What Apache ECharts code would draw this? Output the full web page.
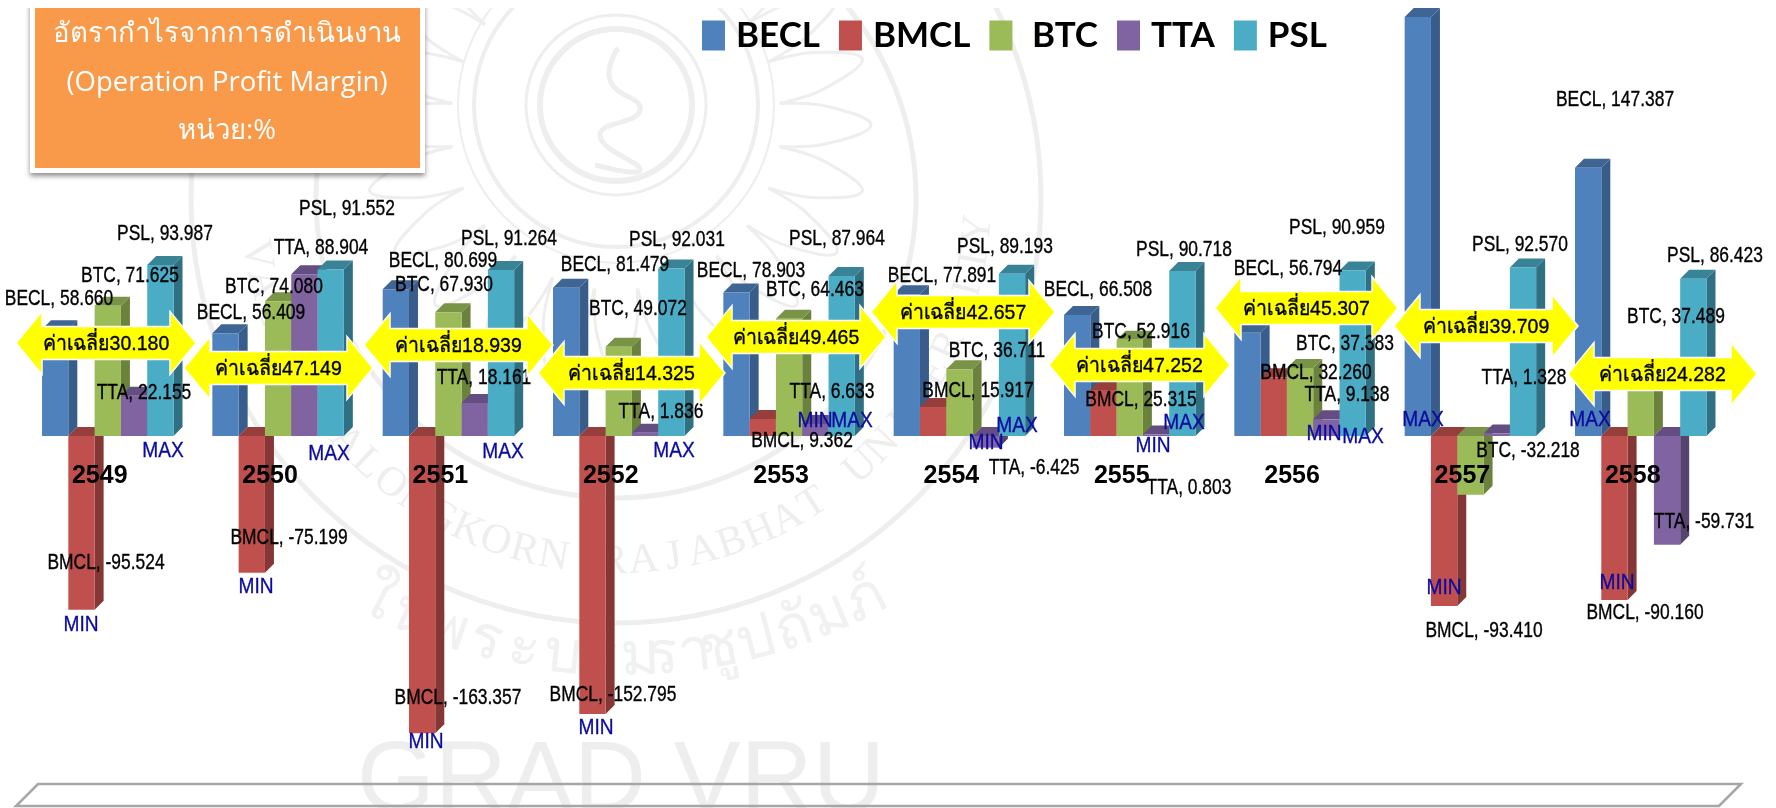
<!DOCTYPE html>
<html><head><meta charset="utf-8">
<style>html,body{margin:0;padding:0;background:#fff}#c{width:1776px;height:808px}</style>
<script src="https://cdn.jsdelivr.net/npm/echarts@6/dist/echarts.min.js"></script>
</head><body><div id="c"></div>
<script>
const categories = ['2549','2550','2551','2552','2553','2554','2555','2556','2557','2558'];
const BECL = [58.660,56.409,80.699,81.479,78.903,77.891,66.508,56.794,230.275,147.387];
const BMCL = [-95.524,-75.199,-163.357,-152.795,9.362,15.917,25.315,32.260,-93.410,-90.160];
const BTC  = [71.625,74.080,67.930,49.072,64.463,36.711,52.916,37.383,-32.218,37.489];
const TTA  = [22.155,88.904,18.161,1.836,6.633,-6.425,0.803,9.138,1.328,-59.731];
const PSL  = [93.987,91.552,91.264,92.031,87.964,89.193,90.718,90.959,92.570,86.423];
const means = ['30.180','47.149','18.939','14.325','49.465','42.657','47.252','45.307','39.709','24.282'];
const seriesNames = ['BECL','BMCL','BTC','TTA','PSL'];
const seriesValues = [BECL,BMCL,BTC,TTA,PSL];
const maxLabel = 'MAX', minLabel = 'MIN';

// --- layout and style, separate from the data ---
const SANS = '"Liberation Sans",sans-serif';
const faces = [
  ['#4F81BD','#385D8A','#3E6594'],['#C0504D','#853735','#953E3B'],
  ['#9BBB59','#6B823D','#7A9447'],['#8064A2','#56436F','#644D80'],
  ['#4BACC6','#2F7083','#398397']];
const labelPos = [
 [[59,299],[251,313],[443,261],[615,265],[751,271],[942,276],[1098,290],[1288,269],null,[1615,100]],
 [[106,563],[289,538],[458,698],[613,695],[802,441],[978,391],[1141,400],[1316,373],[1484,631],[1645,613]],
 [[130,276],[274,287],[444,285],[638,309],[815,290],[997,351],[1141,332],[1345,344],[1528,451],[1676,317]],
 [[144,393],[321,248],[484,378],[661,412],[832,392],[1034,468],[1189,488],[1347,395],[1524,378],[1704,522]],
 [[165,234],[347,209],[509,239],[677,240],[837,239],[1005,247],[1184,250],[1337,228],[1520,245],[1715,256]]];
const arrows = [[16,196,343],[184,373,368],[364,553,345],[538,725,373],[706,886,337],[871,1055,312],[1049,1230,365],[1215,1398,308],[1394,1578,326],[1568,1757,374]];
const maxMarks = [[163,451],[329,454],[503,452],[674,451],[852,421],[1017,426],[1184,423],[1363,437],[1423,420],[1590,420]];
const minMarks = [[81,625],[256,587],[426,742],[596,728],[815,421],[986,443],[1153,446],[1324,434],[1444,588],[1617,583]];
const BAR_RATIO = 0.1544, DEPTH = 9;

function barItem(si){
  return function(params, api){
    const idx = api.value(0), v = api.value(1);
    const p0 = api.coord([idx,0]), p1 = api.coord([idx,v]);
    const w = api.size([1,0])[0]*BAR_RATIO;
    const x = p0[0] + (si-2.5)*w, xr = x+w;
    const top = Math.min(p0[1],p1[1]), bot = Math.max(p0[1],p1[1]);
    const f = faces[si];
    return {type:'group',children:[
      {type:'polygon',shape:{points:[[xr,top],[xr+DEPTH,top-DEPTH],[xr+DEPTH,bot-DEPTH],[xr,bot]]},style:{fill:f[1]}},
      {type:'polygon',shape:{points:[[x,top],[x+DEPTH,top-DEPTH],[xr+DEPTH,top-DEPTH],[xr,top]]},style:{fill:f[2]}},
      {type:'rect',shape:{x:x,y:top,width:w,height:bot-top},style:{fill:f[0]}}
    ]};
  };
}
function labelItem(params, api){
  const si = api.value(2), ci = api.value(0), pos = labelPos[si][ci];
  if(!pos) return null;
  return {type:'text',x:pos[0],y:pos[1],scaleX:0.81,style:{
    text:seriesNames[si]+', '+seriesValues[si][ci].toFixed(3),
    fill:'#000',stroke:'#000',lineWidth:0.35,font:'21.5px '+SANS,align:'center',verticalAlign:'middle'}};
}
function arrowItem(params, api){
  const i = api.value(0), a = arrows[i];
  const [x0,x1,y] = a, h=31.5, s=16.5, l=26;
  return {type:'group',children:[
    {type:'polygon',shape:{points:[[x0,y],[x0+l,y-h],[x0+l,y-s],[x1-l,y-s],[x1-l,y-h],[x1,y],[x1-l,y+h],[x1-l,y+s],[x0+l,y+s],[x0+l,y+h]]},
     style:{fill:'#FFFF00',stroke:'#fff',lineWidth:1.5}},
    {type:'text',x:(x0+x1)/2,y:y+1,scaleX:0.93,style:{text:'ค่าเฉลี่ย'+means[i],fill:'#000',stroke:'#000',lineWidth:0.35,font:'21px '+SANS,align:'center',verticalAlign:'middle'}}
  ]};
}
function markItem(params, api){
  const i = api.value(0), kind = api.value(1);
  const m = (kind ? maxMarks : minMarks)[i];
  return {type:'text',x:m[0],y:m[1],scaleX:0.87,style:{text:kind?maxLabel:minLabel,fill:'#0A0AA0',stroke:'#0A0AA0',lineWidth:0.35,font:'22px '+SANS,align:'center',verticalAlign:'middle'}};
}

// --- pale seal watermark ---
const WM = '#eeeeee';
const wmEls = [];
function ring(cx,cy,r,lw){wmEls.push({type:'circle',z:0,silent:true,shape:{cx:cx,cy:cy,r:r},style:{fill:'none',stroke:WM,lineWidth:lw}});}
ring(616,198,300,5);ring(616,198,425,5);ring(616,105,76,6);ring(616,105,90,3);ring(616,105,142,4);ring(616,105,158,2);
wmEls.push({type:'polyline',z:0,silent:true,shape:{points:[[618,48],[610,80],[640,110],[600,135],[640,170],[595,165]],smooth:0.5},style:{fill:'none',stroke:WM,lineWidth:5}});
for(let k=0;k<24;k++){
  const t=k/24*Math.PI*2, r1=165, r2=255, q=0.13;
  const px=(r,a)=>[616+r*Math.cos(t+a),125+r*Math.sin(t+a)];
  wmEls.push({type:'polyline',z:0,silent:true,shape:{points:[px(r1,-q),px(r1+45,-q*0.7),px(r2,0),px(r1+45,q*0.7),px(r1,q)],smooth:0.4},style:{fill:'none',stroke:WM,lineWidth:3}});
}
function arcText(chars,cx,cy,r,deg0,deg1,font,fill){
  const n=chars.length;
  chars.forEach((ch,i)=>{
    const d=(deg0+(deg1-deg0)*i/(n-1))*Math.PI/180;
    wmEls.push({type:'text',z:0,silent:true,x:cx+r*Math.sin(d),y:cy+r*Math.cos(d),rotation:d,
      style:{text:ch,font:font,fill:fill,align:'center',verticalAlign:'middle'}});
  });
}
arcText(Array.from('VALAYA ALONGKORN RAJABHAT UNIVERSITY'),616,198,364,-81,85,'42px "Liberation Serif",serif',WM);
arcText(['ใ','น','พ','ร','ะ','บ','ร','ม','รา','ชู','ป','ถั','ม','ภ์'],621,120,538,-27,27,'60px "Noto Sans",sans-serif','#f1f1f1');
wmEls.push({type:'text',z:0,silent:true,x:621,y:783,style:{text:'GRAD VRU',font:'100px '+SANS,fill:'#eeeeee',align:'center',verticalAlign:'middle'}});

const graphics = wmEls.concat([
  {type:'polygon',z:1,silent:true,shape:{points:[[38,784],[1741,784],[1719,806],[16,806]]},style:{fill:'none',stroke:'#a6a6a6',lineWidth:2.5}},
  {type:'rect',z:1,shape:{x:30,y:0,width:395,height:173},style:{fill:'#fff',shadowBlur:5,shadowColor:'rgba(0,0,0,0.45)',shadowOffsetY:3}},
  {type:'rect',z:1,shape:{x:35,y:8,width:385,height:160},style:{fill:'#F89A4A'}},
  {type:'rect',z:1,shape:{x:0,y:0,width:1776,height:8},style:{fill:'#fff'}}
]);

const series = seriesNames.map((n,si)=>({
  name:n,type:'custom',z:3,clip:false,renderItem:barItem(si),
  itemStyle:{color:faces[si][0]},encode:{x:0,y:1},
  data:seriesValues[si].map((v,i)=>[i,v])
}));
const labelData=[];
seriesValues.forEach((vals,si)=>vals.forEach((v,ci)=>labelData.push([ci,v,si])));
series.push({type:'custom',name:'labels',z:5,clip:false,silent:true,renderItem:labelItem,encode:{x:0,y:1},data:labelData});
series.push({type:'custom',name:'means',z:6,clip:false,silent:true,renderItem:arrowItem,encode:{x:0},data:categories.map((c,i)=>[i,0])});
series.push({type:'custom',name:'extremes',z:7,clip:false,silent:true,renderItem:markItem,encode:{x:0},data:categories.map((c,i)=>[i,0]).concat(categories.map((c,i)=>[i,1]))});

const chart = echarts.init(document.getElementById('c'),null,{renderer:'canvas'});
chart.setOption({
  animation:false,backgroundColor:'#fff',
  title:{text:'อัตรากำไรจากการดำเนินงาน\n(Operation Profit Margin)\nหน่วย:%',left:222,top:5,textAlign:'center',
    textStyle:{color:'#fff',fontFamily:'"Open Sans",sans-serif',fontSize:27.5,fontWeight:'normal',lineHeight:48.5,align:'center'},z:8},
  legend:{data:seriesNames,left:702,top:18,padding:0,itemWidth:23,itemHeight:30,itemGap:19,icon:'rect',
    textStyle:{fontFamily:'Lato,sans-serif',fontSize:35,fontWeight:'bold',color:'#000',padding:[0,0,0,6]},
    formatter:n=>n==='BTC'?' BTC':n},
  grid:{left:22.6,width:1703.3,top:17.4,height:782.6,containLabel:false,outerBoundsMode:'none'},
  xAxis:{type:'category',data:categories,z:4,position:'bottom',offset:-364,axisLine:{show:false,onZero:false},axisTick:{show:false},
    axisLabel:{margin:28,padding:[0,16,0,0],color:'#000',fontFamily:SANS,fontSize:25,fontWeight:'bold'}},
  yAxis:{type:'value',min:-200,max:230,show:false,splitLine:{show:false}},
  graphic:{elements:graphics},
  series:series
});
</script></body></html>
